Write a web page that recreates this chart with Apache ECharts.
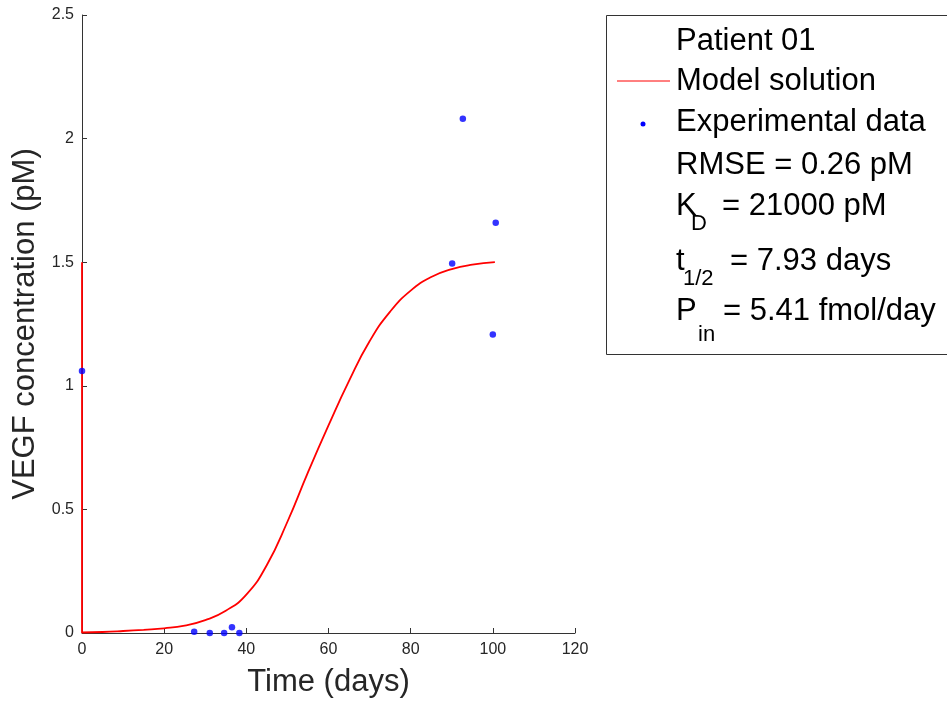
<!DOCTYPE html>
<html>
<head>
<meta charset="utf-8">
<script src="https://cdn.jsdelivr.net/npm/echarts@6/dist/echarts.min.js"></script>
<style>
  html, body { margin: 0; padding: 0; background: #fff; }
  #chart { width: 947px; height: 706px; }
</style>
</head>
<body>
<div id="chart"></div>
<script>
// model solution (t in days, VEGF in pM)
const dropT = [0, 0];
const dropV = [1.5, 0];
const modelT = [0, 5, 10, 15, 20, 25, 30, 35, 40, 45, 50, 55, 60, 65, 70, 75, 80, 85, 90, 95, 100.5];
const modelV = [0.002, 0.004, 0.008, 0.013, 0.019, 0.03, 0.052, 0.09, 0.155, 0.275, 0.45, 0.65, 0.84, 1.02, 1.18, 1.30, 1.385, 1.44, 1.472, 1.49, 1.50];

// experimental data
const dataT = [0, 27.3, 31.1, 34.6, 36.5, 38.3, 90.1, 92.7, 100.0, 100.7];
const dataV = [1.06, 0.005, 0, 0, 0.023, 0, 1.495, 2.08, 1.208, 1.66];

const legendLines = ['Patient 01', 'Model solution', 'Experimental data', 'RMSE = 0.26 pM'];

const chart = echarts.init(document.getElementById('chart'));
const axisColor = '#333333';
const textColor = '#262626';
const font = 'Liberation Sans, Arial, sans-serif';

const big = (text, x, baseline) => ({
  type: 'text', left: x, top: baseline - 27.5,
  style: { text: text, fontSize: 31, fontFamily: font, fill: '#000' }
});
const sub = (text, x, baseline) => ({
  type: 'text', left: x, top: baseline - 19.5,
  style: { text: text, fontSize: 22, fontFamily: font, fill: '#000' }
});

chart.setOption({
  animation: false,
  grid: { left: 82, right: 372, top: 15, bottom: 73, containLabel: false },
  xAxis: {
    type: 'value', min: 0, max: 120, interval: 20,
    name: 'Time (days)', nameLocation: 'middle', nameGap: 34,
    nameTextStyle: { fontSize: 31, fontFamily: font, color: textColor },
    axisLine: { show: true, lineStyle: { color: axisColor, width: 1 } },
    axisTick: { show: true, inside: true, length: 5, lineStyle: { color: axisColor } },
    axisLabel: { fontSize: 16, fontFamily: font, color: textColor, margin: 9 },
    splitLine: { show: false }
  },
  yAxis: {
    type: 'value', min: 0, max: 2.5, interval: 0.5,
    name: 'VEGF concentration (pM)', nameLocation: 'middle', nameGap: 38,
    nameTextStyle: { fontSize: 31, fontFamily: font, color: textColor },
    axisLine: { show: true, lineStyle: { color: axisColor, width: 1 } },
    axisTick: { show: true, inside: true, length: 5, lineStyle: { color: axisColor } },
    axisLabel: { fontSize: 16, fontFamily: font, color: textColor, margin: 8 },
    splitLine: { show: false }
  },
  series: [
    {
      name: 'Model solution', type: 'line', showSymbol: false,
      lineStyle: { color: '#ff0000', width: 1.8 },
      data: dropT.map((t, i) => [t, dropV[i]]),
      z: 2
    },
    {
      name: 'Model solution', type: 'line', showSymbol: false, smooth: 0.5,
      lineStyle: { color: '#ff0000', width: 1.8 },
      data: modelT.map((t, i) => [t, modelV[i]]),
      z: 2
    },
    {
      name: 'Experimental data', type: 'scatter', symbol: 'circle', symbolSize: 6.5,
      itemStyle: { color: '#0000ff' },
      data: dataT.map((t, i) => [t, dataV[i]]),
      z: 3
    }
  ],
  graphic: [
    { type: 'rect', shape: { x: 606.5, y: 15.5, width: 360, height: 339 },
      style: { fill: '#fff', stroke: '#333', lineWidth: 1 } },
    { type: 'line', shape: { x1: 617, y1: 81, x2: 670, y2: 81 },
      style: { stroke: '#ff0000', lineWidth: 1 } },
    { type: 'circle', shape: { cx: 643, cy: 124, r: 2.5 }, style: { fill: '#0000ff' } },
    big(legendLines[0], 676, 53),
    big(legendLines[1], 676, 93),
    big(legendLines[2], 676, 134),
    big(legendLines[3], 676, 177),
    big('K', 676, 218), sub('D', 691, 232), big('= 21000 pM', 722, 218),
    big('t', 676, 273), sub('1/2', 683, 287), big('= 7.93 days', 730, 273),
    big('P', 676, 323), sub('in', 698, 343), big('= 5.41 fmol/day', 723, 323)
  ]
});
</script>
</body>
</html>
